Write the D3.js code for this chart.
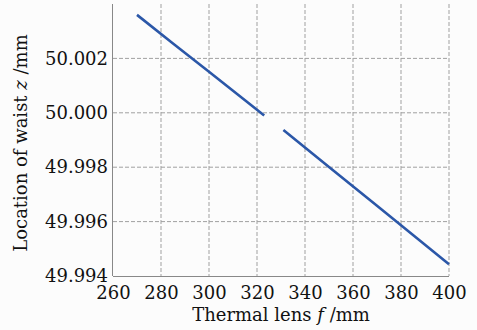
<!DOCTYPE html>
<html>
<head>
<meta charset="utf-8">
<script src="https://cdn.jsdelivr.net/npm/d3@7"></script>
<style>
body { margin: 0; background: #fcfcfc; }
text { font-family: "DejaVu Serif", serif; fill: #111; }
</style>
</head>
<body>
<div id="chart"></div>
<script>
var width = 477
var height = 330
var margin = {top: 4, right: 28, bottom: 54, left: 113}

// two branches of the waist location curve
var seg1F = [270, 285, 300, 315, 323]
var seg1Z = [50.0036, 50.00255, 50.00151, 50.00046, 49.9999]
var seg2F = [331, 350, 370, 390, 400]
var seg2Z = [49.99937, 49.99801, 49.99658, 49.99515, 49.99443]

var xTicks = [260, 280, 300, 320, 340, 360, 380, 400]
var yTicks = [49.994, 49.996, 49.998, 50.000, 50.002]

var svg = d3.select("#chart").append("svg")
    .attr("width", width)
    .attr("height", height)

var g = svg.append("g")
    .attr("transform", "translate(" + margin.left + "," + margin.top + ")")

var w = width - margin.left - margin.right
var h = height - margin.top - margin.bottom

var x = d3.scaleLinear().domain([260, 400]).range([0, w])
var y = d3.scaleLinear().domain([49.994, 50.004]).range([h, 0])

// grid
g.selectAll(".vgrid")
    .data(xTicks.slice(1))
    .join("line")
    .attr("x1", d => x(d)).attr("x2", d => x(d))
    .attr("y1", 0).attr("y2", h)
    .attr("stroke", "#a0a0a0")
    .attr("stroke-width", 1)
    .attr("stroke-dasharray", "4,2")

g.selectAll(".hgrid")
    .data(yTicks.slice(1))
    .join("line")
    .attr("x1", 0).attr("x2", w)
    .attr("y1", d => y(d)).attr("y2", d => y(d))
    .attr("stroke", "#a0a0a0")
    .attr("stroke-width", 1)
    .attr("stroke-dasharray", "4,2")

// axes
var xAxis = g.append("g")
    .attr("transform", "translate(0," + h + ")")
    .call(d3.axisBottom(x).tickValues(xTicks).tickSize(0).tickPadding(10).tickFormat(d3.format("d")))
var yAxis = g.append("g")
    .call(d3.axisLeft(y).tickValues(yTicks).tickSize(0).tickPadding(5).tickFormat(d3.format(".3f")))

xAxis.select(".domain").attr("stroke", "#888").attr("d", "M0,0.5H" + w)
yAxis.select(".domain").attr("stroke", "#888").attr("d", "M-0.5,0V" + h)
svg.selectAll(".tick text")
    .style("font-family", "DejaVu Serif, serif")
    .style("font-size", "18px")
    .attr("fill", "#111")

// data lines
var line = d3.line()
    .x(d => x(d[0]))
    .y(d => y(d[1]))

var segs = [d3.zip(seg1F, seg1Z), d3.zip(seg2F, seg2Z)]
g.selectAll(".seg")
    .data(segs)
    .join("path")
    .attr("d", line)
    .attr("fill", "none")
    .attr("stroke", "#2b57a8")
    .attr("stroke-width", 2.6)

// titles
var xt = svg.append("text")
    .attr("x", 281)
    .attr("y", 321)
    .attr("text-anchor", "middle")
    .style("font-size", "18px")
xt.append("tspan").text("Thermal lens ")
xt.append("tspan").style("font-style", "italic").text("f")
xt.append("tspan").text(" /mm")

var yt = svg.append("text")
    .attr("transform", "translate(27," + 143 + ") rotate(-90)")
    .attr("text-anchor", "middle")
    .style("font-size", "18px")
yt.append("tspan").text("Location of waist ")
yt.append("tspan").style("font-style", "italic").text("z")
yt.append("tspan").text(" /mm")
</script>
</body>
</html>
